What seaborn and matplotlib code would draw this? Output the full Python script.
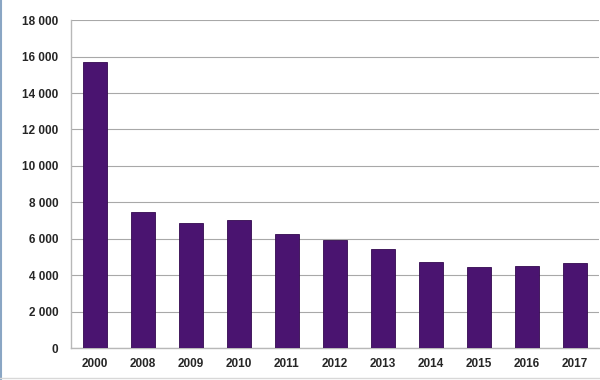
import numpy as np
import pandas as pd
import seaborn as sns
from matplotlib import pyplot as plt
from matplotlib.ticker import FuncFormatter, MultipleLocator
from matplotlib.lines import Line2D

years = ['2000', '2008', '2009', '2010', '2011', '2012',
         '2013', '2014', '2015', '2016', '2017']
values = [15700, 7480, 6870, 7040, 6250, 5920,
          5430, 4730, 4440, 4500, 4660]

df = pd.DataFrame({'year': years, 'value': values})

sns.set_style('white')
plt.rcParams['font.family'] = ['Liberation Sans', 'DejaVu Sans']

fig = plt.figure(figsize=(6, 3.8), dpi=100)
ax = fig.add_axes([0.118, 0.084, 0.880, 0.863])

sns.barplot(data=df, x='year', y='value', color='#4a1470', width=0.5,
            edgecolor='#33094f', linewidth=0.6, saturation=1, ax=ax, zorder=3)

# grid and axis limits
ax.set_ylim(0, 18000)
ax.set_xlim(-0.5, len(years) - 0.5)
ax.yaxis.set_major_locator(MultipleLocator(2000))
ax.yaxis.set_major_formatter(FuncFormatter(lambda v, p: f'{int(v):,}'.replace(',', ' ')))
ax.grid(axis='y', color='#a8a8a8', linewidth=0.8, zorder=0)
ax.set_axisbelow(True)

# category separators on the x axis
ax.set_xticks(np.arange(len(years)))
ax.set_xticklabels(years)
ax.set_xticks(np.arange(len(years) + 1) - 0.5, minor=True)
ax.tick_params(axis='x', which='major', length=0, pad=7)
ax.tick_params(axis='x', which='minor', length=5, color='#b0b0b0', width=0.8)
ax.tick_params(axis='y', length=5, color='#b0b0b0', width=0.8, pad=4)
ax.tick_params(labelsize=8.5, labelcolor='#262626')
for lbl in ax.get_xticklabels() + ax.get_yticklabels():
    lbl.set_fontweight('bold')

for s in ['top', 'right']:
    ax.spines[s].set_visible(False)
for s in ['left', 'bottom']:
    ax.spines[s].set_color('#b8b8b8')
    ax.spines[s].set_linewidth(1.0)

ax.set_xlabel('')
ax.set_ylabel('')

# thin frame lines from the source screenshot
fig.add_artist(Line2D([0.001, 0.001], [0, 1], color='#8aa6c4', linewidth=1.5))
fig.add_artist(Line2D([0, 1], [0.006, 0.006], color='#d8d8d8', linewidth=1.0))

plt.savefig('out.png', dpi=100)
plt.close()
